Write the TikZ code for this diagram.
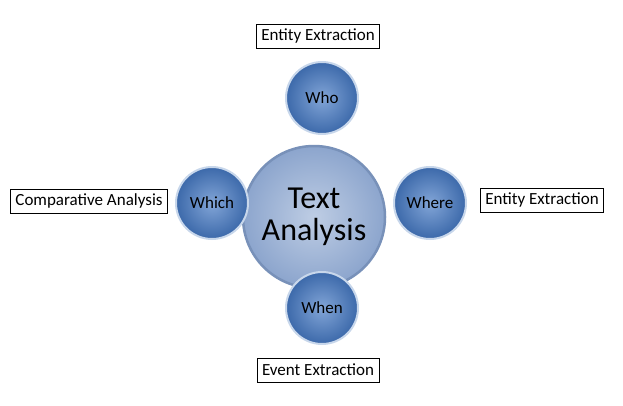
\documentclass[tikz,border=0pt]{standalone}
\usepackage{fontspec}
\setmainfont{Carlito}
\definecolor{hubin}{RGB}{190,205,228}
\definecolor{hubout}{RGB}{140,165,205}
\definecolor{hubline}{RGB}{120,145,185}
\definecolor{spokein}{RGB}{130,165,215}
\definecolor{spokeout}{RGB}{60,105,170}
\definecolor{spokeline}{RGB}{200,215,235}
\begin{document}
\begin{tikzpicture}[x=1pt,y=-1pt]
  \tikzset{
    hub/.style={circle, draw=hubline, line width=2.5pt, minimum size=142pt, inner color=hubin, outer color=hubout, font=\fontsize{32}{32}\selectfont, align=center},
    spoke/.style={circle, draw=spokeline, line width=2pt, minimum size=72pt, inner color=spokein, outer color=spokeout, font=\fontsize{17}{19}\selectfont},
    tag/.style={draw, rectangle, fill=white, line width=0.8pt, font=\fontsize{17}{19}\selectfont, inner xsep=5pt, minimum height=24pt}
  }
  \useasboundingbox (0,0) rectangle (623,405);
  % centre
  \node[hub] (text) at (314,217) {Text\\Analysis};

  % satellites
  \node[spoke] (who) at (322,98) {Who};
  \node[spoke] (which) at (212,203) {Which};
  \node[spoke] (where) at (430,203) {Where};
  \node[spoke] (when) at (322,308) {When};

  % labels
  \node[tag] (whotag) at (318,36) {Entity Extraction};
  \node[tag] (whichtag) at (89,201) {Comparative Analysis};
  \node[tag] (wheretag) at (542,200) {Entity Extraction};
  \node[tag] (whentag) at (318,370) {Event Extraction};
\end{tikzpicture}
\end{document}
